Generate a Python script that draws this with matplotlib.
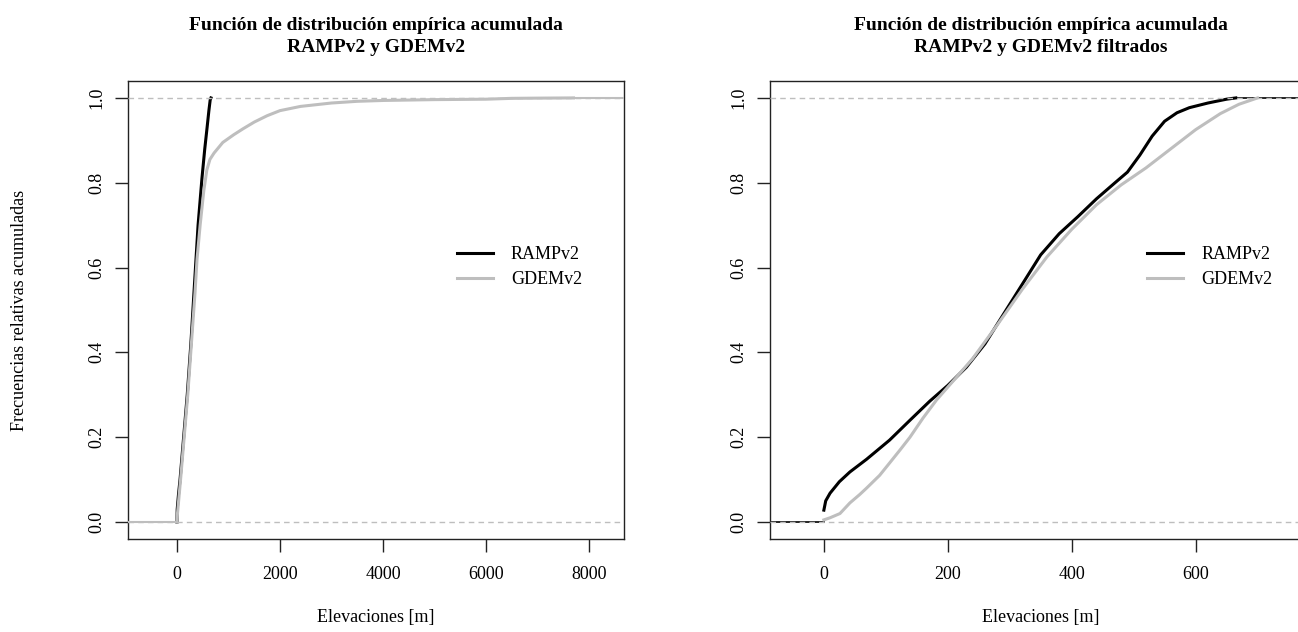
import numpy as np
import matplotlib.pyplot as plt

plt.rcParams['font.family'] = ['Liberation Serif', 'DejaVu Serif']

# panel izquierdo: RAMPv2 y GDEMv2 completos
elev_ramp = [0, 5, 30, 60, 130, 200, 270, 330, 410, 485, 540, 585, 620, 645, 660]
fda_ramp = [0, 0.03, 0.065, 0.1, 0.2, 0.3, 0.42, 0.54, 0.7, 0.81, 0.88, 0.93, 0.97, 0.995, 1.0]

elev_gdem = [0, 10, 70, 140, 210, 280, 350, 390, 450, 520, 580, 640, 720, 890, 1100,
             1280, 1500, 1750, 2000, 2400, 3000, 3500, 4000, 5000, 6000, 6500, 7000, 7700]
fda_gdem = [0, 0.02, 0.1, 0.2, 0.3, 0.42, 0.54, 0.62, 0.70, 0.78, 0.83, 0.855, 0.87, 0.895, 0.913,
            0.927, 0.943, 0.958, 0.97, 0.98, 0.988, 0.992, 0.994, 0.996, 0.997, 0.999, 0.9995, 1.0]

# panel derecho: filtrados
elev_ramp_f = [0, 3, 10, 25, 42, 69, 106, 139, 171, 200, 230, 260, 290, 320, 350, 380, 410,
               440, 470, 490, 510, 530, 550, 570, 590, 620, 650, 665]
fda_ramp_f = [0.028, 0.05, 0.068, 0.095, 0.118, 0.148, 0.193, 0.24, 0.285, 0.322, 0.365, 0.42,
              0.49, 0.56, 0.63, 0.68, 0.72, 0.762, 0.80, 0.825, 0.865, 0.91, 0.945, 0.965,
              0.977, 0.988, 0.997, 1.0]

elev_gdem_f = [0, 10, 26, 42, 58, 69, 90, 106, 123, 139, 160, 182, 200, 240, 280, 320, 360,
               400, 440, 480, 520, 560, 600, 640, 670, 700]
fda_gdem_f = [0.005, 0.01, 0.02, 0.045, 0.065, 0.08, 0.11, 0.139, 0.17, 0.2, 0.245, 0.288, 0.318,
              0.385, 0.465, 0.548, 0.625, 0.69, 0.748, 0.795, 0.835, 0.88, 0.925, 0.963, 0.985, 1.0]

titulos = ["Función de distribución empírica acumulada\nRAMPv2 y GDEMv2",
           "Función de distribución empírica acumulada\nRAMPv2 y GDEMv2 filtrados"]
series = ['RAMPv2', 'GDEMv2']
yticks = [0, 0.2, 0.4, 0.6, 0.8, 1.0]
xticks_izq = [0, 2000, 4000, 6000, 8000]
xticks_der = [0, 200, 400, 600]
xlim_izq = (-951, 8680)
xlim_der = (-87, 788)

negro = 'black'
gris = '#bebebe'

fig = plt.figure(figsize=(12.98, 6.32), dpi=100)
ax1 = fig.add_axes([0.0986, 0.1472, 0.3821, 0.7247])
ax2 = fig.add_axes([0.5932, 0.1472, 0.4176, 0.7247])

# izquierda: gris con extensiones, negro sin
l1, = ax1.plot(elev_ramp, fda_ramp, color=negro, lw=2.2, zorder=2)
l2, = ax1.plot(elev_gdem, fda_gdem, color=gris, lw=2.2, zorder=3)
ax1.plot([xlim_izq[0], elev_gdem[0]], [0, 0], color=gris, lw=1.5, zorder=3)
ax1.plot([elev_gdem[-1], xlim_izq[1]], [1, 1], color=gris, lw=1.5, zorder=3)
ax1.set_xlim(xlim_izq)
ax1.set_xticks(xticks_izq)

# derecha: negro con extensiones, gris sin
r1, = ax2.plot(elev_ramp_f, fda_ramp_f, color=negro, lw=2.2, zorder=2)
ax2.plot([xlim_der[0], elev_ramp_f[0]], [0, 0], color=negro, lw=1.2, zorder=2)
ax2.plot([elev_ramp_f[-1], xlim_der[1]], [1, 1], color=negro, lw=1.2, zorder=2)
r2, = ax2.plot(elev_gdem_f, fda_gdem_f, color=gris, lw=2.2, zorder=3)
ax2.set_xlim(xlim_der)
ax2.set_xticks(xticks_der)

for ax, tit, handles, lx in [(ax1, titulos[0], [l1, l2], 0.663), (ax2, titulos[1], [r1, r2], 0.696)]:
    ax.axhline(0, color=gris, lw=1, ls=(0, (4, 3)), zorder=4)
    ax.axhline(1, color=gris, lw=1, ls=(0, (4, 3)), zorder=4)
    ax.set_ylim(-0.04, 1.04)
    ax.set_yticks(yticks)
    ax.set_yticklabels(['%.1f' % v for v in yticks], rotation=90, va='center')
    ax.tick_params(direction='out', length=9.4, width=1, color='#222222', labelsize=13)
    ax.tick_params(axis='x', pad=10)
    ax.tick_params(axis='y', pad=7)
    for s in ax.spines.values():
        s.set_color('#222222')
        s.set_linewidth(1)
    ax.set_xlabel('Elevaciones [m]', fontsize=13, labelpad=19)
    ax.set_title(tit, fontsize=14, fontweight='bold', linespacing=1.4, pad=21)
    ax.legend(handles, series, loc='center left', frameon=False,
              bbox_to_anchor=(lx, 0.594),
              borderpad=0, borderaxespad=0, handlelength=2.0,
              handletextpad=1.0, labelspacing=0.45, fontsize=13)

fig.text(20 / 1298, 1 - 310 / 632, 'Frecuencias relativas acumuladas', rotation=90,
         va='center', ha='center', fontsize=13)

fig.savefig('out.png', dpi=100)
